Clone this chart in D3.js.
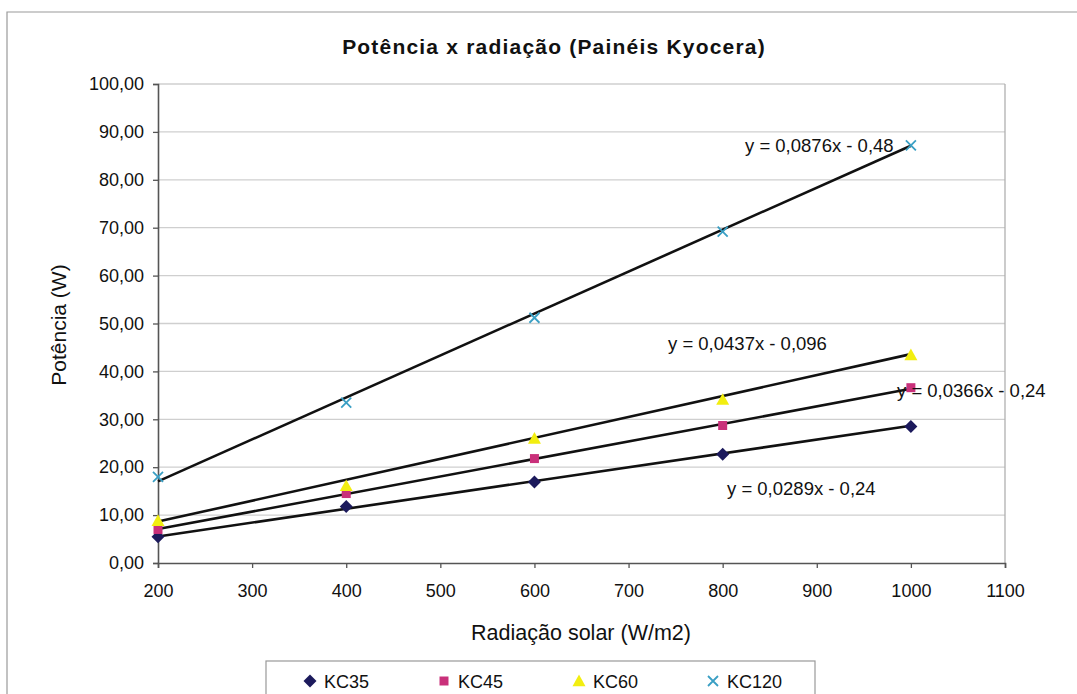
<!DOCTYPE html>
<html><head><meta charset="utf-8">
<script src="https://cdn.jsdelivr.net/npm/d3@7"></script>
<style>body{margin:0;background:#fff}svg{display:block}text{font-family:"Liberation Sans",Arial,sans-serif}</style>
</head><body>
<svg id="c" width="1077" height="694"></svg>
<script>
const xValues = [200, 400, 600, 800, 1000];
const kc35 = [5.5, 11.8, 16.9, 22.7, 28.5];
const kc45 = [7.0, 14.5, 21.8, 28.7, 36.6];
const kc60 = [8.8, 16.1, 26.0, 34.1, 43.4];
const kc120 = [18.0, 33.5, 51.2, 69.2, 87.2];
const seriesNames = ["KC35", "KC45", "KC60", "KC120"];
const trendSlopes = [0.0289, 0.0366, 0.0437, 0.0876];
const trendIntercepts = [-0.24, -0.24, -0.096, -0.48];
const trendLabels = ["y = 0,0289x - 0,24", "y = 0,0366x - 0,24", "y = 0,0437x - 0,096", "y = 0,0876x - 0,48"];
const xTicks = [200, 300, 400, 500, 600, 700, 800, 900, 1000, 1100];
const yTicks = [0, 10, 20, 30, 40, 50, 60, 70, 80, 90, 100];

const colors = ["#1c1a5c", "#c9307a", "#f2ee10", "#3a9fc4"];
const allSeries = [kc35, kc45, kc60, kc120];

const svg = d3.select("#c");
const x = d3.scaleLinear().domain([200, 1100]).range([158, 1005]);
const y = d3.scaleLinear().domain([0, 100]).range([563, 84]);

// outer chart border
svg.append("path").attr("d", "M7,694 L7,12 L1077,12").attr("fill", "none").attr("stroke", "#9a9a9a").attr("stroke-width", 1.2);

// gridlines
svg.append("g").selectAll("line").data(yTicks.filter(d => d > 0)).join("line")
  .attr("x1", x(200)).attr("x2", x(1100)).attr("y1", d => y(d)).attr("y2", d => y(d))
  .attr("stroke", "#cfcfcf").attr("stroke-width", 1.3);
svg.append("line").attr("x1", x(1100)).attr("x2", x(1100)).attr("y1", y(100)).attr("y2", y(0))
  .attr("stroke", "#b0b0b0").attr("stroke-width", 1.3);

// axes
const fmt = d => d.toFixed(2).replace(".", ",");
const yAxis = svg.append("g").attr("transform", `translate(${x(200)},0)`)
  .call(d3.axisLeft(y).tickValues(yTicks).tickFormat(fmt).tickSize(5).tickPadding(9));
const xAxis = svg.append("g").attr("transform", `translate(0,${y(0)})`)
  .call(d3.axisBottom(x).tickValues(xTicks).tickFormat(d3.format("d")).tickSize(5).tickPadding(16));
[yAxis, xAxis].forEach(a => {
  a.select(".domain").attr("stroke", "#555").attr("stroke-width", 1.6);
  a.selectAll(".tick line").attr("stroke", "#555").attr("stroke-width", 1.3);
  a.selectAll("text").attr("font-size", 18).attr("fill", "#111");
});

// trendlines
trendSlopes.forEach((m, i) => {
  svg.append("line")
    .attr("x1", x(200)).attr("y1", y(m * 200 + trendIntercepts[i]))
    .attr("x2", x(1000)).attr("y2", y(m * 1000 + trendIntercepts[i]))
    .attr("stroke", "#111").attr("stroke-width", 2.6);
});

// markers
function drawSym(g, i, cx, cy) {
  let d;
  if (i === 0) { const r = 6.5; d = `M${cx},${cy-r}L${cx+r},${cy}L${cx},${cy+r}L${cx-r},${cy}Z`; }
  else if (i === 1) { const r = 4.5; d = `M${cx-r},${cy-r}h${2*r}v${2*r}h${-2*r}Z`; }
  else if (i === 2) { const r = 6.5; d = `M${cx},${cy-r}L${cx+r},${cy+r*0.8}L${cx-r},${cy+r*0.8}Z`; }
  else {
    const r = 5;
    g.append("path").attr("d", `M${cx-r},${cy-r}L${cx+r},${cy+r}M${cx-r},${cy+r}L${cx+r},${cy-r}`)
      .attr("stroke", colors[i]).attr("stroke-width", 1.8).attr("fill", "none");
    return;
  }
  g.append("path").attr("d", d).attr("fill", colors[i]);
}
const ptG = svg.append("g");
allSeries.forEach((vals, i) => {
  vals.forEach((v, j) => drawSym(ptG, i, x(xValues[j]), y(v)));
});

// trend labels
const labelPos = [[727, 495], [897, 397], [668, 350], [745, 152]];
trendLabels.forEach((t, i) => {
  svg.append("text").attr("x", labelPos[i][0]).attr("y", labelPos[i][1]).attr("font-size", 18.5).attr("fill", "#111").text(t);
});

// title
svg.append("text").attr("x", 554).attr("y", 54).attr("text-anchor", "middle").attr("font-size", 21).attr("letter-spacing", 1.2).attr("font-weight", "bold").attr("fill", "#111")
  .text("Potência x radiação (Painéis Kyocera)");
// axis titles
svg.append("text").attr("transform", "translate(66,325) rotate(-90)").attr("text-anchor", "middle").attr("font-size", 21).attr("fill", "#111").text("Potência (W)");
svg.append("text").attr("x", 581).attr("y", 640).attr("text-anchor", "middle").attr("font-size", 21.5).attr("fill", "#111").text("Radiação solar (W/m2)");

// legend
svg.append("rect").attr("x", 266).attr("y", 661).attr("width", 549).attr("height", 50).attr("fill", "#fff").attr("stroke", "#999").attr("stroke-width", 1.2);
const legX = [310, 444, 579, 713];
seriesNames.forEach((n, i) => {
  drawSym(svg, i, legX[i], 681);
  svg.append("text").attr("x", legX[i] + 14).attr("y", 688).attr("font-size", 18).attr("fill", "#111").text(n);
});
</script>
</body></html>
